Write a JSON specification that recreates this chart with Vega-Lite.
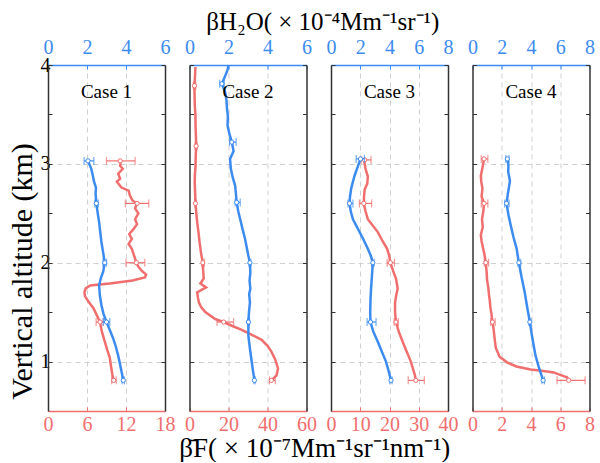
{
  "$schema": "https://vega.github.io/schema/vega-lite/v6.json",
  "background": "white",
  "padding": {"left": 7, "top": 10, "right": 4, "bottom": 0},
  "config": {
    "font": "Liberation Serif",
    "view": {"stroke": null},
    "axis": {"labelFont": "Liberation Serif", "labelFontSize": 20, "titleFont": "Liberation Serif", "labelOverlap": false, "labelFlush": false, "labelBound": false, "domainWidth": 1.5, "tickWidth": 1},
    "title": {"font": "Liberation Serif", "fontSize": 26, "fontWeight": "normal", "color": "black"}
  },
  "datasets": {
    "r1": [{"alt":0.81,"v":10.1},{"alt":0.87,"v":9.9},{"alt":0.95,"v":9.7},{"alt":1.04,"v":9.5},{"alt":1.12,"v":9.1},{"alt":1.21,"v":8.7},{"alt":1.30,"v":8.3},{"alt":1.40,"v":8.0},{"alt":1.47,"v":7.5},{"alt":1.54,"v":7.0},{"alt":1.60,"v":6.3},{"alt":1.66,"v":5.7},{"alt":1.70,"v":5.6},{"alt":1.74,"v":5.8},{"alt":1.77,"v":6.5},{"alt":1.79,"v":9.5},{"alt":1.82,"v":13.0},{"alt":1.85,"v":14.9},{"alt":1.88,"v":15.1},{"alt":1.92,"v":14.4},{"alt":1.96,"v":13.9},{"alt":2.00,"v":13.6},{"alt":2.04,"v":13.4},{"alt":2.09,"v":13.15},{"alt":2.14,"v":12.9},{"alt":2.19,"v":12.4},{"alt":2.24,"v":12.9},{"alt":2.29,"v":12.5},{"alt":2.34,"v":13.15},{"alt":2.39,"v":13.7},{"alt":2.44,"v":13.4},{"alt":2.50,"v":13.9},{"alt":2.55,"v":13.4},{"alt":2.60,"v":13.7},{"alt":2.63,"v":13.0},{"alt":2.68,"v":12.6},{"alt":2.73,"v":12.4},{"alt":2.76,"v":11.3},{"alt":2.82,"v":10.6},{"alt":2.85,"v":11.1},{"alt":2.90,"v":10.8},{"alt":2.95,"v":11.5},{"alt":2.98,"v":11.1},{"alt":3.03,"v":11.2}],
    "b1": [{"alt":0.81,"v":3.86},{"alt":0.93,"v":3.74},{"alt":1.06,"v":3.6},{"alt":1.15,"v":3.48},{"alt":1.23,"v":3.35},{"alt":1.32,"v":3.17},{"alt":1.40,"v":3.0},{"alt":1.48,"v":2.85},{"alt":1.57,"v":2.74},{"alt":1.67,"v":2.66},{"alt":1.77,"v":2.62},{"alt":1.85,"v":2.72},{"alt":1.91,"v":2.83},{"alt":2.00,"v":2.91},{"alt":2.10,"v":2.83},{"alt":2.21,"v":2.74},{"alt":2.31,"v":2.68},{"alt":2.41,"v":2.62},{"alt":2.50,"v":2.55},{"alt":2.60,"v":2.48},{"alt":2.70,"v":2.44},{"alt":2.76,"v":2.46},{"alt":2.82,"v":2.36},{"alt":2.88,"v":2.3},{"alt":2.95,"v":2.22},{"alt":3.03,"v":2.05}],
    "r1e": [{"alt":3.03,"v":11.1,"lo":9.0,"hi":13.4},{"alt":2.60,"v":13.7,"lo":11.9,"hi":15.5},{"alt":2.00,"v":13.6,"lo":12.0,"hi":14.9},{"alt":1.40,"v":8.0,"lo":7.4,"hi":8.5},{"alt":0.81,"v":10.1,"lo":9.8,"hi":10.5}],
    "b1e": [{"alt":3.03,"v":2.05,"lo":1.85,"hi":2.35},{"alt":2.60,"v":2.48,"lo":2.4,"hi":2.58},{"alt":2.00,"v":2.91,"lo":2.82,"hi":3.0},{"alt":1.40,"v":3.0,"lo":2.83,"hi":3.17},{"alt":0.81,"v":3.86,"lo":3.8,"hi":3.92}],
    "r2": [{"alt":0.81,"v":42},{"alt":0.86,"v":44.6},{"alt":0.93,"v":45.4},{"alt":1.02,"v":44},{"alt":1.10,"v":42},{"alt":1.16,"v":40},{"alt":1.22,"v":37},{"alt":1.27,"v":32},{"alt":1.32,"v":26.8},{"alt":1.36,"v":22},{"alt":1.40,"v":17.5},{"alt":1.43,"v":13.2},{"alt":1.50,"v":8.1},{"alt":1.55,"v":6.0},{"alt":1.60,"v":4.8},{"alt":1.65,"v":4.3},{"alt":1.70,"v":3.9},{"alt":1.75,"v":8.5},{"alt":1.79,"v":5.6},{"alt":1.84,"v":7.3},{"alt":1.92,"v":7.0},{"alt":2.00,"v":6.8},{"alt":2.10,"v":5.9},{"alt":2.20,"v":5.2},{"alt":2.28,"v":4.78},{"alt":2.40,"v":4.0},{"alt":2.50,"v":3.5},{"alt":2.60,"v":3.05},{"alt":2.70,"v":2.9},{"alt":2.80,"v":2.7},{"alt":2.88,"v":2.75},{"alt":2.98,"v":3.1},{"alt":3.08,"v":3.2},{"alt":3.18,"v":3.4},{"alt":3.28,"v":3.3},{"alt":3.38,"v":3.1},{"alt":3.49,"v":3.05},{"alt":3.60,"v":2.7},{"alt":3.70,"v":2.6},{"alt":3.79,"v":2.54},{"alt":3.88,"v":2.8},{"alt":3.98,"v":3.05}],
    "b2": [{"alt":0.81,"v":3.33},{"alt":0.90,"v":3.26},{"alt":1.00,"v":3.19},{"alt":1.13,"v":3.1},{"alt":1.26,"v":3.02},{"alt":1.40,"v":3.02},{"alt":1.50,"v":3.05},{"alt":1.60,"v":3.1},{"alt":1.68,"v":3.06},{"alt":1.74,"v":3.12},{"alt":1.82,"v":3.08},{"alt":1.90,"v":3.12},{"alt":2.00,"v":3.1},{"alt":2.07,"v":3.02},{"alt":2.15,"v":2.94},{"alt":2.24,"v":2.85},{"alt":2.34,"v":2.72},{"alt":2.44,"v":2.6},{"alt":2.52,"v":2.5},{"alt":2.61,"v":2.42},{"alt":2.70,"v":2.38},{"alt":2.78,"v":2.34},{"alt":2.86,"v":2.22},{"alt":2.95,"v":2.12},{"alt":3.05,"v":2.08},{"alt":3.13,"v":2.26},{"alt":3.22,"v":2.17},{"alt":3.30,"v":2.05},{"alt":3.39,"v":1.95},{"alt":3.48,"v":1.97},{"alt":3.56,"v":1.92},{"alt":3.64,"v":1.9},{"alt":3.72,"v":1.83},{"alt":3.81,"v":1.66},{"alt":3.89,"v":1.83},{"alt":3.95,"v":1.95},{"alt":4.0,"v":2.0}],
    "r2e": [{"alt":3.79,"v":2.54,"lo":2.0,"hi":3.2},{"alt":3.18,"v":3.4,"lo":2.9,"hi":3.9},{"alt":2.60,"v":3.05,"lo":2.6,"hi":3.5},{"alt":2.00,"v":6.8,"lo":6.2,"hi":7.6},{"alt":1.40,"v":17.5,"lo":14.1,"hi":22.6},{"alt":0.81,"v":42,"lo":41,"hi":44}],
    "b2e": [{"alt":3.81,"v":1.66,"lo":1.55,"hi":1.78},{"alt":3.22,"v":2.17,"lo":2.05,"hi":2.39},{"alt":2.61,"v":2.42,"lo":2.34,"hi":2.6},{"alt":2.00,"v":3.1,"lo":3.05,"hi":3.15},{"alt":1.40,"v":3.02,"lo":2.98,"hi":3.08},{"alt":0.81,"v":3.33,"lo":3.3,"hi":3.37}],
    "r3": [{"alt":0.81,"v":29.0},{"alt":0.86,"v":28.7},{"alt":0.93,"v":28.0},{"alt":1.00,"v":27.3},{"alt":1.10,"v":25.9},{"alt":1.20,"v":24.5},{"alt":1.30,"v":23.2},{"alt":1.40,"v":22.2},{"alt":1.50,"v":21.9},{"alt":1.60,"v":21.9},{"alt":1.67,"v":22.3},{"alt":1.74,"v":22.8},{"alt":1.84,"v":22.2},{"alt":1.92,"v":21.2},{"alt":2.00,"v":20.3},{"alt":2.07,"v":19.9},{"alt":2.14,"v":19.2},{"alt":2.22,"v":17.6},{"alt":2.31,"v":16.0},{"alt":2.38,"v":14.2},{"alt":2.44,"v":12.6},{"alt":2.52,"v":11.8},{"alt":2.60,"v":11.2},{"alt":2.67,"v":11.3},{"alt":2.74,"v":11.5},{"alt":2.80,"v":12.4},{"alt":2.87,"v":12.6},{"alt":2.95,"v":11.8},{"alt":3.04,"v":11.3}],
    "b3": [{"alt":0.81,"v":4.1},{"alt":0.90,"v":3.95},{"alt":1.00,"v":3.76},{"alt":1.10,"v":3.48},{"alt":1.20,"v":3.2},{"alt":1.30,"v":2.9},{"alt":1.40,"v":2.7},{"alt":1.50,"v":2.68},{"alt":1.62,"v":2.7},{"alt":1.74,"v":2.74},{"alt":1.87,"v":2.8},{"alt":2.00,"v":2.86},{"alt":2.07,"v":2.72},{"alt":2.14,"v":2.52},{"alt":2.21,"v":2.3},{"alt":2.28,"v":2.06},{"alt":2.36,"v":1.78},{"alt":2.44,"v":1.5},{"alt":2.52,"v":1.35},{"alt":2.60,"v":1.27},{"alt":2.67,"v":1.3},{"alt":2.75,"v":1.38},{"alt":2.82,"v":1.5},{"alt":2.88,"v":1.61},{"alt":2.96,"v":1.8},{"alt":3.05,"v":2.02}],
    "r3e": [{"alt":3.04,"v":11.5,"lo":10.3,"hi":13.7},{"alt":2.60,"v":11.2,"lo":9.7,"hi":13.9},{"alt":2.00,"v":20.3,"lo":19.2,"hi":21.7},{"alt":1.40,"v":22.2,"lo":21.6,"hi":23.0},{"alt":0.81,"v":29.0,"lo":26.4,"hi":31.9}],
    "b3e": [{"alt":3.05,"v":2.02,"lo":1.72,"hi":2.29},{"alt":2.60,"v":1.27,"lo":1.16,"hi":1.5},{"alt":2.00,"v":2.86,"lo":2.78,"hi":2.95},{"alt":1.40,"v":2.7,"lo":2.47,"hi":3.08},{"alt":0.81,"v":4.1,"lo":4.02,"hi":4.18}],
    "r4": [{"alt":0.81,"v":6.58},{"alt":0.84,"v":6.46},{"alt":0.87,"v":5.9},{"alt":0.89,"v":5.56},{"alt":0.91,"v":4.6},{"alt":0.92,"v":3.97},{"alt":0.95,"v":3.0},{"alt":0.99,"v":2.38},{"alt":1.05,"v":1.85},{"alt":1.14,"v":1.59},{"alt":1.25,"v":1.5},{"alt":1.33,"v":1.44},{"alt":1.40,"v":1.36},{"alt":1.48,"v":1.3},{"alt":1.55,"v":1.22},{"alt":1.62,"v":1.18},{"alt":1.67,"v":1.13},{"alt":1.75,"v":1.08},{"alt":1.82,"v":1.0},{"alt":1.90,"v":0.97},{"alt":2.00,"v":0.91},{"alt":2.08,"v":0.82},{"alt":2.15,"v":0.72},{"alt":2.22,"v":0.62},{"alt":2.28,"v":0.57},{"alt":2.36,"v":0.7},{"alt":2.44,"v":0.65},{"alt":2.52,"v":0.74},{"alt":2.60,"v":0.79},{"alt":2.67,"v":0.62},{"alt":2.75,"v":0.68},{"alt":2.82,"v":0.6},{"alt":2.88,"v":0.57},{"alt":2.96,"v":0.68},{"alt":3.05,"v":0.79}],
    "b4": [{"alt":0.81,"v":4.83},{"alt":0.93,"v":4.56},{"alt":1.06,"v":4.31},{"alt":1.23,"v":4.1},{"alt":1.40,"v":3.92},{"alt":1.55,"v":3.74},{"alt":1.71,"v":3.56},{"alt":1.85,"v":3.36},{"alt":2.00,"v":3.17},{"alt":2.14,"v":3.02},{"alt":2.26,"v":2.8},{"alt":2.38,"v":2.61},{"alt":2.49,"v":2.45},{"alt":2.60,"v":2.33},{"alt":2.70,"v":2.42},{"alt":2.77,"v":2.5},{"alt":2.83,"v":2.56},{"alt":2.92,"v":2.44},{"alt":2.98,"v":2.46},{"alt":3.05,"v":2.38}],
    "r4e": [{"alt":3.05,"v":0.79,"lo":0.6,"hi":1.05},{"alt":2.60,"v":0.79,"lo":0.6,"hi":1.05},{"alt":2.00,"v":0.91,"lo":0.8,"hi":1.1},{"alt":1.40,"v":1.36,"lo":1.25,"hi":1.55},{"alt":0.81,"v":6.58,"lo":5.78,"hi":7.7}],
    "b4e": [{"alt":3.05,"v":2.38,"lo":2.28,"hi":2.5},{"alt":2.60,"v":2.33,"lo":2.2,"hi":2.5},{"alt":2.00,"v":3.17,"lo":3.1,"hi":3.3},{"alt":1.40,"v":3.92,"lo":3.85,"hi":4.0},{"alt":0.81,"v":4.83,"lo":4.75,"hi":4.92}]
  },
  "title": {"text": "βH₂O( × 10⁻⁴Mm⁻¹sr⁻¹)", "anchor": "middle", "offset": 2, "fontSize": 25, "dx": 22},
  "vconcat": [
    {
      "title": {"text": "β̄F( × 10⁻⁷Mm⁻¹sr⁻¹nm⁻¹)", "orient": "bottom", "anchor": "middle", "offset": 2, "fontSize": 27, "dx": 14},
      "bounds": "flush",
      "spacing": 24.5,
      "hconcat": [
        {
          "width": 117, "height": 346,
          "resolve": {"scale": {"x": "independent"}, "axis": {"x": "independent", "y": "independent"}},
          "layer": [
            {
              "encoding": {"y": {"field": "alt", "type": "quantitative", "scale": {"domain": [0.5, 4], "nice": false, "zero": false},
                "axis": {"orient": "right", "title": null, "labels": false, "values": [1, 1.5, 2, 2.5, 3, 3.5, 4], "domainColor": "#333333", "tickColor": "#333333", "tickSize": -4, "grid": false}}},
              "layer": [
                {"data": {"name": "r1"}, "mark": {"type": "line", "color": "#f06e6e", "strokeWidth": 2.5},
                 "encoding": {"order": {"field": "alt"}, "x": {"field": "v", "type": "quantitative", "scale": {"domain": [0, 18], "nice": false}, "axis": null}}},
                {"data": {"name": "r1e"}, "mark": {"type": "errorbar", "color": "#f06e6e", "ticks": {"size": 8}, "thickness": 1.2},
                 "encoding": {"x": {"field": "lo", "type": "quantitative"}, "x2": {"field": "hi"}}},
                {"data": {"name": "r1e"}, "mark": {"type": "point", "shape": "circle", "filled": true, "fill": "white", "stroke": "#f06e6e", "strokeWidth": 1, "size": 18, "opacity": 1},
                 "encoding": {"x": {"field": "v", "type": "quantitative"}}}
              ]
            },
            {
              "encoding": {"y": {"field": "alt", "type": "quantitative", "scale": {"domain": [0.5, 4], "nice": false, "zero": false},
                "axis": {"orient": "left", "title": "Vertical altitude (km)", "titleFontSize": 30, "titleFontWeight": "normal", "titlePadding": 3, "titleY": 206, "values": [1, 1.5, 2, 2.5, 3, 3.5, 4], "labelExpr": "datum.value % 1 == 0 ? datum.value + '' : ''", "domainColor": "#333333", "tickColor": "#333333", "labelColor": "black", "tickSize": -4, "labelPadding": 2, "grid": true, "gridDash": [5, 4], "gridColor": "#d0d0d0", "gridOpacity": {"condition": {"test": "datum.value % 1 == 0", "value": 1}, "value": 0}}}},
              "layer": [
                {"data": {"name": "b1"}, "mark": {"type": "line", "color": "#3c8cf0", "strokeWidth": 2.5},
                 "encoding": {"order": {"field": "alt"}, "x": {"field": "v", "type": "quantitative", "scale": {"domain": [0, 6], "nice": false},
                   "axis": {"orient": "top", "title": null, "labelExpr": "datum.value % 2 == 0 ? datum.label : ''", "labelOverlap": false, "domainColor": "#3c8cf0", "tickColor": "#3c8cf0", "labelColor": "#3c8cf0", "tickSize": -4, "labelPadding": 12, "grid": true, "gridDash": [5, 4], "gridColor": "#d0d0d0", "gridOpacity": {"condition": {"test": "datum.value % 2 == 0 && datum.value > 0 && datum.value < 6", "value": 1}, "value": 0}}}}},
                {"data": {"name": "b1e"}, "mark": {"type": "errorbar", "color": "#3c8cf0", "ticks": {"size": 8}, "thickness": 1.2},
                 "encoding": {"x": {"field": "lo", "type": "quantitative"}, "x2": {"field": "hi"}}},
                {"data": {"name": "b1e"}, "mark": {"type": "point", "shape": "circle", "filled": true, "fill": "white", "stroke": "#3c8cf0", "strokeWidth": 1, "size": 18, "opacity": 1},
                 "encoding": {"x": {"field": "v", "type": "quantitative"}}}
              ]
            },
            {"data": {"values": [{"label": "Case 1"}]}, "mark": {"type": "text", "fontSize": 19, "font": "Liberation Serif", "fill": "black", "baseline": "middle", "align": "center"},
             "encoding": {"text": {"field": "label", "type": "nominal"}, "x": {"datum": 3, "type": "quantitative", "scale": {"domain": [0, 6], "nice": false},
               "axis": {"orient": "bottom", "title": null, "labelExpr": "datum.value % 2 == 0 ? (datum.value * 3) + '' : ''", "labelOverlap": false, "domainColor": "#f06e6e", "tickColor": "#f06e6e", "labelColor": "#f06e6e", "tickSize": -4, "labelPadding": 7, "grid": false}},
               "y": {"datum": 3.73, "type": "quantitative", "axis": null}}}
          ]
        },
        {
          "width": 117, "height": 346,
          "resolve": {"scale": {"x": "independent"}, "axis": {"x": "independent", "y": "independent"}},
          "layer": [
            {
              "encoding": {"y": {"field": "alt", "type": "quantitative", "scale": {"domain": [0.5, 4], "nice": false, "zero": false},
                "axis": {"orient": "left", "title": null, "labels": false, "values": [1, 1.5, 2, 2.5, 3, 3.5, 4], "domainColor": "#333333", "tickColor": "#333333", "tickSize": -4, "grid": true, "gridDash": [5, 4], "gridColor": "#d0d0d0", "gridOpacity": {"condition": {"test": "datum.value % 1 == 0", "value": 1}, "value": 0}}}},
              "layer": [
                {"data": {"name": "r2"}, "mark": {"type": "line", "color": "#f06e6e", "strokeWidth": 2.5},
                 "encoding": {"order": {"field": "alt"}, "x": {"field": "v", "type": "quantitative", "scale": {"domain": [0, 60], "nice": false},
                   "axis": {"orient": "bottom", "title": null, "labelExpr": "datum.value % 20 == 0 ? datum.label : ''", "labelOverlap": false, "domainColor": "#f06e6e", "tickColor": "#f06e6e", "labelColor": "#f06e6e", "tickSize": -4, "labelPadding": 7, "grid": false}}}},
                {"data": {"name": "r2e"}, "mark": {"type": "errorbar", "color": "#f06e6e", "ticks": {"size": 8}, "thickness": 1.2},
                 "encoding": {"x": {"field": "lo", "type": "quantitative"}, "x2": {"field": "hi"}}},
                {"data": {"name": "r2e"}, "mark": {"type": "point", "shape": "circle", "filled": true, "fill": "white", "stroke": "#f06e6e", "strokeWidth": 1, "size": 18, "opacity": 1},
                 "encoding": {"x": {"field": "v", "type": "quantitative"}}}
              ]
            },
            {
              "encoding": {"y": {"field": "alt", "type": "quantitative", "scale": {"domain": [0.5, 4], "nice": false, "zero": false},
                "axis": {"orient": "right", "title": null, "labels": false, "values": [1, 1.5, 2, 2.5, 3, 3.5, 4], "domainColor": "#333333", "tickColor": "#333333", "tickSize": -4, "grid": false}}},
              "layer": [
                {"data": {"name": "b2"}, "mark": {"type": "line", "color": "#3c8cf0", "strokeWidth": 2.5},
                 "encoding": {"order": {"field": "alt"}, "x": {"field": "v", "type": "quantitative", "scale": {"domain": [0, 6], "nice": false},
                   "axis": {"orient": "top", "title": null, "labelExpr": "datum.value % 2 == 0 ? datum.label : ''", "labelOverlap": false, "domainColor": "#3c8cf0", "tickColor": "#3c8cf0", "labelColor": "#3c8cf0", "tickSize": -4, "labelPadding": 12, "grid": true, "gridDash": [5, 4], "gridColor": "#d0d0d0", "gridOpacity": {"condition": {"test": "datum.value % 2 == 0 && datum.value > 0 && datum.value < 6", "value": 1}, "value": 0}}}}},
                {"data": {"name": "b2e"}, "mark": {"type": "errorbar", "color": "#3c8cf0", "ticks": {"size": 8}, "thickness": 1.2},
                 "encoding": {"x": {"field": "lo", "type": "quantitative"}, "x2": {"field": "hi"}}},
                {"data": {"name": "b2e"}, "mark": {"type": "point", "shape": "circle", "filled": true, "fill": "white", "stroke": "#3c8cf0", "strokeWidth": 1, "size": 18, "opacity": 1},
                 "encoding": {"x": {"field": "v", "type": "quantitative"}}}
              ]
            },
            {"data": {"values": [{"label": "Case 2"}]}, "mark": {"type": "text", "fontSize": 19, "font": "Liberation Serif", "fill": "black", "baseline": "middle", "align": "center"},
             "encoding": {"text": {"field": "label", "type": "nominal"}, "x": {"datum": 0.5, "type": "quantitative", "scale": {"domain": [0, 1]}, "axis": null}, "y": {"datum": 3.73, "type": "quantitative", "axis": null}}}
          ]
        },
        {
          "width": 117, "height": 346,
          "resolve": {"scale": {"x": "independent"}, "axis": {"x": "independent", "y": "independent"}},
          "layer": [
            {
              "encoding": {"y": {"field": "alt", "type": "quantitative", "scale": {"domain": [0.5, 4], "nice": false, "zero": false},
                "axis": {"orient": "left", "title": null, "labels": false, "values": [1, 1.5, 2, 2.5, 3, 3.5, 4], "domainColor": "#333333", "tickColor": "#333333", "tickSize": -4, "grid": true, "gridDash": [5, 4], "gridColor": "#d0d0d0", "gridOpacity": {"condition": {"test": "datum.value % 1 == 0", "value": 1}, "value": 0}}}},
              "layer": [
                {"data": {"name": "r3"}, "mark": {"type": "line", "color": "#f06e6e", "strokeWidth": 2.5},
                 "encoding": {"order": {"field": "alt"}, "x": {"field": "v", "type": "quantitative", "scale": {"domain": [0, 40], "nice": false},
                   "axis": {"orient": "bottom", "title": null, "labelExpr": "datum.value % 10 == 0 ? datum.label : ''", "labelOverlap": false, "domainColor": "#f06e6e", "tickColor": "#f06e6e", "labelColor": "#f06e6e", "tickSize": -4, "labelPadding": 7, "grid": false}}}},
                {"data": {"name": "r3e"}, "mark": {"type": "errorbar", "color": "#f06e6e", "ticks": {"size": 8}, "thickness": 1.2},
                 "encoding": {"x": {"field": "lo", "type": "quantitative"}, "x2": {"field": "hi"}}},
                {"data": {"name": "r3e"}, "mark": {"type": "point", "shape": "circle", "filled": true, "fill": "white", "stroke": "#f06e6e", "strokeWidth": 1, "size": 18, "opacity": 1},
                 "encoding": {"x": {"field": "v", "type": "quantitative"}}}
              ]
            },
            {
              "encoding": {"y": {"field": "alt", "type": "quantitative", "scale": {"domain": [0.5, 4], "nice": false, "zero": false},
                "axis": {"orient": "right", "title": null, "labels": false, "values": [1, 1.5, 2, 2.5, 3, 3.5, 4], "domainColor": "#333333", "tickColor": "#333333", "tickSize": -4, "grid": false}}},
              "layer": [
                {"data": {"name": "b3"}, "mark": {"type": "line", "color": "#3c8cf0", "strokeWidth": 2.5},
                 "encoding": {"order": {"field": "alt"}, "x": {"field": "v", "type": "quantitative", "scale": {"domain": [0, 8], "nice": false},
                   "axis": {"orient": "top", "title": null, "labelExpr": "datum.value % 2 == 0 ? datum.label : ''", "labelOverlap": false, "domainColor": "#3c8cf0", "tickColor": "#3c8cf0", "labelColor": "#3c8cf0", "tickSize": -4, "labelPadding": 12, "grid": true, "gridDash": [5, 4], "gridColor": "#d0d0d0", "gridOpacity": {"condition": {"test": "datum.value % 2 == 0 && datum.value > 0 && datum.value < 8", "value": 1}, "value": 0}}}}},
                {"data": {"name": "b3e"}, "mark": {"type": "errorbar", "color": "#3c8cf0", "ticks": {"size": 8}, "thickness": 1.2},
                 "encoding": {"x": {"field": "lo", "type": "quantitative"}, "x2": {"field": "hi"}}},
                {"data": {"name": "b3e"}, "mark": {"type": "point", "shape": "circle", "filled": true, "fill": "white", "stroke": "#3c8cf0", "strokeWidth": 1, "size": 18, "opacity": 1},
                 "encoding": {"x": {"field": "v", "type": "quantitative"}}}
              ]
            },
            {"data": {"values": [{"label": "Case 3"}]}, "mark": {"type": "text", "fontSize": 19, "font": "Liberation Serif", "fill": "black", "baseline": "middle", "align": "center"},
             "encoding": {"text": {"field": "label", "type": "nominal"}, "x": {"datum": 0.5, "type": "quantitative", "scale": {"domain": [0, 1]}, "axis": null}, "y": {"datum": 3.73, "type": "quantitative", "axis": null}}}
          ]
        },
        {
          "width": 117, "height": 346,
          "resolve": {"scale": {"x": "independent"}, "axis": {"x": "independent", "y": "independent"}},
          "layer": [
            {
              "encoding": {"y": {"field": "alt", "type": "quantitative", "scale": {"domain": [0.5, 4], "nice": false, "zero": false},
                "axis": {"orient": "left", "title": null, "labels": false, "values": [1, 1.5, 2, 2.5, 3, 3.5, 4], "domainColor": "#333333", "tickColor": "#333333", "tickSize": -4, "grid": true, "gridDash": [5, 4], "gridColor": "#d0d0d0", "gridOpacity": {"condition": {"test": "datum.value % 1 == 0", "value": 1}, "value": 0}}}},
              "layer": [
                {"data": {"name": "r4"}, "mark": {"type": "line", "color": "#f06e6e", "strokeWidth": 2.5},
                 "encoding": {"order": {"field": "alt"}, "x": {"field": "v", "type": "quantitative", "scale": {"domain": [0, 8], "nice": false},
                   "axis": {"orient": "bottom", "title": null, "labelExpr": "datum.value % 2 == 0 ? datum.label : ''", "labelOverlap": false, "domainColor": "#f06e6e", "tickColor": "#f06e6e", "labelColor": "#f06e6e", "tickSize": -4, "labelPadding": 7, "grid": false}}}},
                {"data": {"name": "r4e"}, "mark": {"type": "errorbar", "color": "#f06e6e", "ticks": {"size": 8}, "thickness": 1.2},
                 "encoding": {"x": {"field": "lo", "type": "quantitative"}, "x2": {"field": "hi"}}},
                {"data": {"name": "r4e"}, "mark": {"type": "point", "shape": "circle", "filled": true, "fill": "white", "stroke": "#f06e6e", "strokeWidth": 1, "size": 18, "opacity": 1},
                 "encoding": {"x": {"field": "v", "type": "quantitative"}}}
              ]
            },
            {
              "encoding": {"y": {"field": "alt", "type": "quantitative", "scale": {"domain": [0.5, 4], "nice": false, "zero": false},
                "axis": {"orient": "right", "title": null, "labels": false, "values": [1, 1.5, 2, 2.5, 3, 3.5, 4], "domainColor": "#333333", "tickColor": "#333333", "tickSize": -4, "grid": false}}},
              "layer": [
                {"data": {"name": "b4"}, "mark": {"type": "line", "color": "#3c8cf0", "strokeWidth": 2.5},
                 "encoding": {"order": {"field": "alt"}, "x": {"field": "v", "type": "quantitative", "scale": {"domain": [0, 8], "nice": false},
                   "axis": {"orient": "top", "title": null, "labelExpr": "datum.value % 2 == 0 ? datum.label : ''", "labelOverlap": false, "domainColor": "#3c8cf0", "tickColor": "#3c8cf0", "labelColor": "#3c8cf0", "tickSize": -4, "labelPadding": 12, "grid": true, "gridDash": [5, 4], "gridColor": "#d0d0d0", "gridOpacity": {"condition": {"test": "datum.value % 2 == 0 && datum.value > 0 && datum.value < 8", "value": 1}, "value": 0}}}}},
                {"data": {"name": "b4e"}, "mark": {"type": "errorbar", "color": "#3c8cf0", "ticks": {"size": 8}, "thickness": 1.2},
                 "encoding": {"x": {"field": "lo", "type": "quantitative"}, "x2": {"field": "hi"}}},
                {"data": {"name": "b4e"}, "mark": {"type": "point", "shape": "circle", "filled": true, "fill": "white", "stroke": "#3c8cf0", "strokeWidth": 1, "size": 18, "opacity": 1},
                 "encoding": {"x": {"field": "v", "type": "quantitative"}}}
              ]
            },
            {"data": {"values": [{"label": "Case 4"}]}, "mark": {"type": "text", "fontSize": 19, "font": "Liberation Serif", "fill": "black", "baseline": "middle", "align": "center"},
             "encoding": {"text": {"field": "label", "type": "nominal"}, "x": {"datum": 0.5, "type": "quantitative", "scale": {"domain": [0, 1]}, "axis": null}, "y": {"datum": 3.73, "type": "quantitative", "axis": null}}}
          ]
        }
      ]
    }
  ]
}
